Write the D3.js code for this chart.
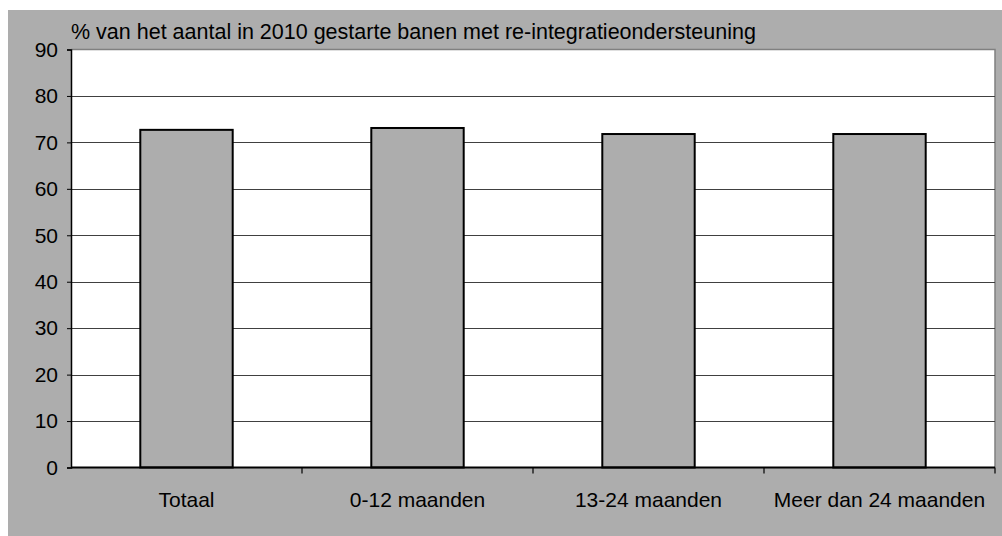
<!DOCTYPE html>
<html><head><meta charset="utf-8">
<script src="https://cdn.jsdelivr.net/npm/d3@7"></script>
<style>body{margin:0;background:#fff}svg{display:block}text{font-family:Arial,"Liberation Sans",sans-serif;fill:#000}</style>
</head><body>
<script>
const categories = ["Totaal", "0-12 maanden", "13-24 maanden", "Meer dan 24 maanden"];
const values = [72.7, 73.1, 71.8, 71.8];
const yTicks = [0, 10, 20, 30, 40, 50, 60, 70, 80, 90];
const title = "% van het aantal in 2010 gestarte banen met re-integratieondersteuning";

const W = 1002, H = 536;
const svg = d3.select("body").append("svg").attr("width", W).attr("height", H);
svg.append("rect").attr("x", 8).attr("y", 10).attr("width", W - 8).attr("height", H - 10).attr("fill", "#adadad");

const L = 71, R = 995, T = 49.5, B = 467.5;
const x = d3.scaleBand().domain(categories).range([L, R]).paddingInner(0.6).paddingOuter(0.3);
const y = d3.scaleLinear().domain([0, 90]).range([B, T]);

svg.append("rect").attr("x", L).attr("y", T).attr("width", R - L).attr("height", B - T).attr("fill", "#fff");
svg.append("path").attr("d", `M${L},${T}H${R}V${B}`).attr("fill", "none").attr("stroke", "#808080").attr("stroke-width", 1.5);

svg.append("g").selectAll("line").data(yTicks.filter(d => d > 0 && d < 90)).join("line")
  .attr("x1", L).attr("x2", R).attr("y1", d => Math.round(y(d)) + 0.5).attr("y2", d => Math.round(y(d)) + 0.5)
  .attr("stroke", "#404040").attr("stroke-width", 1);

svg.append("g").selectAll("rect").data(values).join("rect")
  .attr("x", (d, i) => x(categories[i])).attr("width", x.bandwidth())
  .attr("y", d => y(d)).attr("height", d => B - y(d))
  .attr("fill", "#adadad").attr("stroke", "#000").attr("stroke-width", 2);

const yAxis = d3.axisLeft(y).tickValues(yTicks).tickSize(4).tickPadding(9);
const gy = svg.append("g").attr("transform", `translate(${L},0)`).call(yAxis);
gy.select(".domain").attr("stroke", "#000").attr("stroke-width", 1.5);
gy.selectAll(".tick line").attr("stroke", "#000");
gy.selectAll(".tick text").attr("font-size", 21).attr("font-family", "Arial, 'Liberation Sans', sans-serif");

const xAxis = d3.axisBottom(x).tickSize(0).tickPadding(25);
const gx = svg.append("g").attr("transform", `translate(0,${B})`).call(xAxis);
gx.select(".domain").attr("stroke", "#000").attr("stroke-width", 2).attr("d", `M${L},0H${R}`);
gx.selectAll(".tick text").attr("font-size", 21).attr("font-family", "Arial, 'Liberation Sans', sans-serif");
const bounds = categories.map((c, i) => L + (R - L) * (i + 1) / categories.length);
gx.append("g").selectAll("line").data(bounds).join("line")
  .attr("x1", d => d).attr("x2", d => d).attr("y1", 0).attr("y2", 6).attr("stroke", "#000").attr("stroke-width", 1.2);

svg.append("text").attr("x", L).attr("y", 38.5).attr("font-size", 21.5).text(title);
</script>
</body></html>
